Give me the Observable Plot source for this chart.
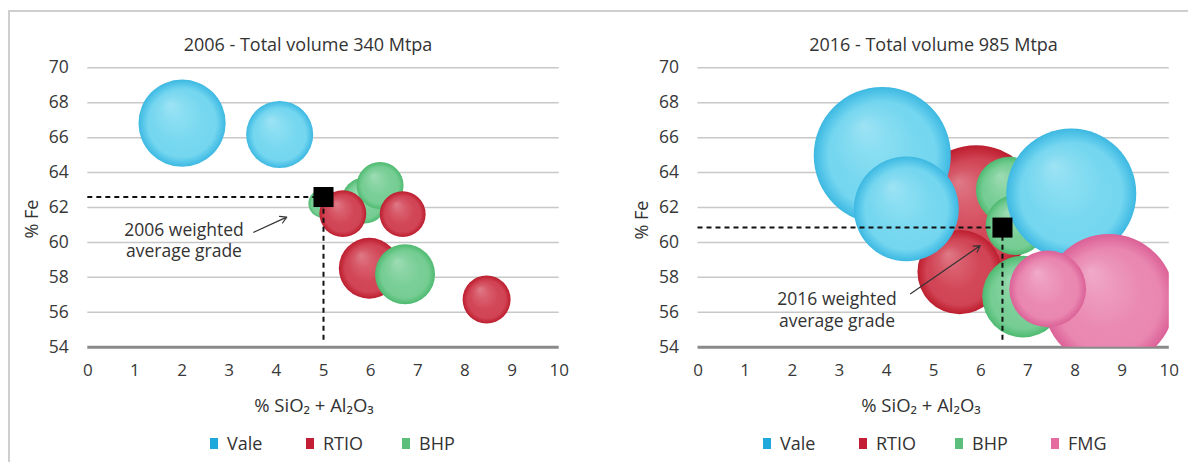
<!DOCTYPE html>
<html>
<head>
<meta charset="utf-8">
<script src="https://cdn.jsdelivr.net/npm/d3@7"></script>
<script src="https://cdn.jsdelivr.net/npm/@observablehq/plot@0.6"></script>
<style>
  html, body { margin: 0; padding: 0; background: #fff; }
  body { width: 1188px; height: 462px; overflow: hidden; position: relative; font-family: "Open Sans", sans-serif; color: #333; }
  .frame { position: absolute; left: 8px; top: 10px; width: 1200px; height: 470px; border-left: 2px solid #cfcfcf; border-top: 2px solid #cfcfcf; }
  .abs { position: absolute; white-space: nowrap; }
  .title { font-size: 18px; line-height: 24px; text-align: center; color: #333; }
  .ylab { font-size: 18px; color: #333; transform: translate(-50%, -50%) rotate(-90deg); }
  .xlab { font-size: 18.5px; color: #333; transform: translate(-50%, -50%); }
  .legend { font-size: 18px; line-height: 24px; color: #333; display: flex; align-items: center; }
  .legend span.sw { display: inline-block; width: 8px; height: 11px; margin-right: 9px; }
  .legend span.item { display: inline-flex; align-items: center; width: 96px; }
  .panel { position: absolute; top: 60px; }
</style>
</head>
<body>
<svg width="0" height="0" style="position:absolute">
  <defs>
    <radialGradient id="g-Vale" cx="50%" cy="50%" r="50%">
      <stop offset="0" stop-color="#7ddbf1"/>
      <stop offset="0.78" stop-color="#74d6ef"/>
      <stop offset="0.9" stop-color="#55c6e9"/>
      <stop offset="1" stop-color="#3db8e1"/>
    </radialGradient>
    <radialGradient id="g-RTIO" cx="50%" cy="50%" r="50%">
      <stop offset="0" stop-color="#d64c5d"/>
      <stop offset="0.78" stop-color="#d04455"/>
      <stop offset="0.9" stop-color="#c62e3e"/>
      <stop offset="1" stop-color="#bb1e2f"/>
    </radialGradient>
    <radialGradient id="g-BHP" cx="50%" cy="50%" r="50%">
      <stop offset="0" stop-color="#7ed19b"/>
      <stop offset="0.78" stop-color="#76cd94"/>
      <stop offset="0.9" stop-color="#60c380"/>
      <stop offset="1" stop-color="#4eb970"/>
    </radialGradient>
    <radialGradient id="g-FMG" cx="50%" cy="50%" r="50%">
      <stop offset="0" stop-color="#ec8fb6"/>
      <stop offset="0.78" stop-color="#e987b1"/>
      <stop offset="0.9" stop-color="#e272a3"/>
      <stop offset="1" stop-color="#db6196"/>
    </radialGradient>
    <radialGradient id="shine" cx="50%" cy="50%" r="50%" fx="36%" fy="28%">
      <stop offset="0" stop-color="#fff" stop-opacity="0.28"/>
      <stop offset="0.3" stop-color="#fff" stop-opacity="0.1"/>
      <stop offset="0.6" stop-color="#fff" stop-opacity="0"/>
    </radialGradient>
  </defs>
</svg>
<div class="frame"></div>

<div class="abs title" style="left:0; width:616px; top:32px;">2006 - Total volume 340 Mtpa</div>
<div class="abs title" style="left:610px; width:647px; top:32px;">2016 - Total volume 985 Mtpa</div>

<div class="abs ylab" style="left:31px; top:219px;">% Fe</div>
<div class="abs ylab" style="left:641px; top:220px;">% Fe</div>

<div class="abs xlab" style="left:314px; top:404px;">% SiO₂ + Al₂O₃</div>
<div class="abs xlab" style="left:921px; top:404px;">% SiO₂ + Al₂O₃</div>

<div id="p1" class="panel" style="left:0px;"></div>
<div id="p2" class="panel" style="left:610px;"></div>

<div id="leg1" class="abs legend" style="left:210px; top:431px;"></div>
<div id="leg2" class="abs legend" style="left:763px; top:431px;"></div>

<script>
// ---------- data ----------
const xTicks = [0, 1, 2, 3, 4, 5, 6, 7, 8, 9, 10];
const yTicks = [54, 56, 58, 60, 62, 64, 66, 68, 70];

const legend2006 = ["Vale", "RTIO", "BHP"];
const legend2016 = ["Vale", "RTIO", "BHP", "FMG"];
const legendColors = { Vale: "#1ea8dc", RTIO: "#c41e36", BHP: "#5bbf7b", FMG: "#e46c9f" };

// 2006 bubbles (draw order)
const company2006 = ["Vale", "Vale", "BHP", "BHP", "BHP", "RTIO", "RTIO", "RTIO", "BHP", "RTIO"];
const silica2006  = [2.0, 4.07, 4.98, 5.87, 6.2, 5.41, 6.68, 5.97, 6.73, 8.46];
const fe2006      = [66.83, 66.18, 62.23, 62.4, 63.26, 61.65, 61.62, 58.52, 58.18, 56.73];
const volume2006  = [76, 45, 8, 21, 22, 22, 21, 37, 36, 23];
const avg2006 = { silica: 5.0, fe: 62.6 };

// 2016 bubbles (draw order)
const company2016 = ["RTIO", "RTIO", "Vale", "Vale", "BHP", "BHP", "BHP", "Vale", "FMG", "FMG"];
const silica2016  = [5.9, 5.55, 3.91, 4.42, 6.6, 6.74, 6.9, 7.92, 8.72, 7.42];
const fe2016      = [61.9, 58.3, 64.98, 61.92, 63.0, 61.0, 56.9, 62.8, 56.7, 57.34];
const volume2016  = [164, 71, 188, 110, 44, 36, 67, 169, 174, 59];
const avg2016 = { silica: 6.46, fe: 60.85 };

// annotations
const note2006 = { text: "2006 weighted\naverage grade", x: 2.04, y: 60.17, ax1: 3.52, ay1: 60.58, ax2: 4.22, ay2: 61.45 };
const note2016 = { text: "2016 weighted\naverage grade", x: 2.95, y: 56.19, ax1: 4.51, ay1: 57.06, ax2: 5.99, ay2: 59.82 };

// ---------- build ----------
function rows(companies, xs, ys, vs) {
  return companies.map((c, i) => ({ company: c, silica: xs[i], fe: ys[i], volume: vs[i] }));
}

function panel(data, avg, note, width, marginLeft, marginRight) {
  const bubbleMarks = data.flatMap(d => [
    Plot.dot([d], { x: "silica", y: "fe", r: "volume", fill: `url(#g-${d.company})`, stroke: "none", clip: true }),
    Plot.dot([d], { x: "silica", y: "fe", r: "volume", fill: "url(#shine)", stroke: "none", clip: true })
  ]);
  return Plot.plot({
    width, height: 330,
    marginLeft, marginRight, marginTop: 7.3, marginBottom: 43.3,
    style: { fontFamily: "'Open Sans', sans-serif", background: "transparent", overflow: "visible" },
    x: { domain: [0, 10] },
    y: { domain: [54, 70] },
    r: { type: "sqrt", domain: [0, 400], range: [0, 100] },
    marks: [
      Plot.axisX(xTicks, { tickSize: 0, tickPadding: 17, fontSize: 17, fill: "#383838", label: null }),
      Plot.axisY(yTicks, { tickSize: 0, tickPadding: 19, fontSize: 17.5, fill: "#383838", label: null }),
      Plot.ruleY(yTicks.filter(t => t > 54), { x1: 0, x2: 10, stroke: "#c8c8c8", strokeWidth: 1.5 }),
      Plot.ruleY([54], { x1: 0, x2: 10, stroke: "#8a8a8a", strokeWidth: 3 }),
      ...bubbleMarks,
      Plot.ruleY([avg], { x1: 0, x2: "silica", y: "fe", stroke: "#111", strokeWidth: 2, strokeDasharray: "5,4" }),
      Plot.ruleX([avg], { x: "silica", y1: 54.4, y2: "fe", stroke: "#111", strokeWidth: 2, strokeDasharray: "5,4" }),
      Plot.dot([avg], { x: "silica", y: "fe", symbol: "square", r: 11.3, fill: "#000" }),
      Plot.arrow([note], { x1: "ax1", y1: "ay1", x2: "ax2", y2: "ay2", stroke: "#333", strokeWidth: 1.2, headLength: 9 }),
      Plot.text([note], { x: "x", y: "y", text: "text", fontSize: 17.5, fill: "#333", lineHeight: 1.25, textAnchor: "middle" })
    ]
  });
}

document.getElementById("p1").appendChild(
  panel(rows(company2006, silica2006, fe2006, volume2006), avg2006, note2006, 600, 87.3, 41.3)
);
document.getElementById("p2").appendChild(
  panel(rows(company2016, silica2016, fe2016, volume2016), avg2016, note2016, 578, 87.5, 19.2)
);

function legend(el, names) {
  for (const n of names) {
    const item = document.createElement("span");
    item.className = "item";
    const sw = document.createElement("span");
    sw.className = "sw";
    sw.style.background = legendColors[n];
    item.appendChild(sw);
    item.appendChild(document.createTextNode(n));
    el.appendChild(item);
  }
}
legend(document.getElementById("leg1"), legend2006);
legend(document.getElementById("leg2"), legend2016);
</script>
</body>
</html>
